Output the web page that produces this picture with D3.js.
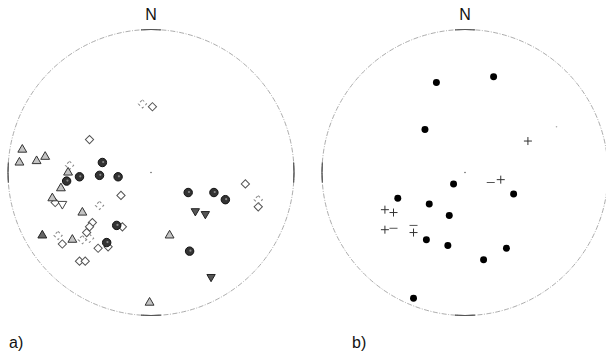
<!DOCTYPE html>
<html>
<head>
<meta charset="utf-8">
<script src="https://cdn.jsdelivr.net/npm/d3@7"></script>
<style>
  body { margin: 0; background: #fff; }
  text { font-family: "Liberation Sans", Arial, sans-serif; fill: #111; }
</style>
</head>
<body>
<svg id="chart" width="606" height="358"></svg>
<script>
// positions in the projection disk, unit radius (x east, y north)
const aCircles = [[-0.34,0.07],[-0.50,-0.03],[-0.36,-0.02],[-0.23,-0.03],[-0.59,-0.06],
  [-0.24,-0.37],[-0.31,-0.49],[0.26,-0.14],[0.44,-0.14],[0.52,-0.19],[0.27,-0.55]];
const aTriangles = [[-0.90,0.16],[-0.92,0.07],[-0.80,0.08],[-0.74,0.11],[-0.58,0.00],
  [-0.63,-0.11],[-0.69,-0.18],[-0.48,-0.28],[-0.55,-0.47],[0.13,-0.44],[-0.01,-0.91]];
const aTrianglesDark = [[-0.76,-0.44]];
const aTrianglesOpenDown = [[-0.62,-0.22]];
const aTrianglesDown = [[0.31,-0.27],[0.38,-0.29],[0.42,-0.73]];
const aDiamonds = [[-0.43,0.23],[0.01,0.46],[0.66,-0.08],[0.75,-0.24],[-0.21,-0.16],
  [-0.67,-0.21],[-0.41,-0.35],[-0.43,-0.38],[-0.45,-0.42],[-0.20,-0.38],[-0.62,-0.50],
  [-0.30,-0.52],[-0.37,-0.53],[-0.50,-0.62],[-0.46,-0.62]];
const aBroken = [[-0.06,0.48],[-0.57,0.05],[-0.36,-0.23],[-0.65,-0.44],[-0.48,-0.47],
  [-0.43,-0.46],[0.75,-0.19]];

const bDots = [[-0.20,0.63],[0.20,0.67],[-0.28,0.30],[-0.08,-0.08],[0.34,-0.15],
  [-0.47,-0.18],[-0.25,-0.22],[-0.11,-0.30],[-0.27,-0.47],[-0.12,-0.51],[0.29,-0.53],
  [0.13,-0.61],[-0.36,-0.88]];
const bPlus = [[0.44,0.22],[0.25,-0.05],[-0.56,-0.26],[-0.50,-0.28],[-0.56,-0.40],[-0.36,-0.42]];
const bMinus = [[0.18,-0.07],[-0.50,-0.39],[-0.36,-0.37]];
const bFaint = [[0.64,0.32]];

const panelLabels = ["a)", "b)"];

const svg = d3.select("#chart");
const R = 143;

function makeNet(cx, cy, label, lx) {
  const x = d3.scaleLinear().domain([-1, 1]).range([cx - R, cx + R]);
  const y = d3.scaleLinear().domain([-1, 1]).range([cy + R, cy - R]);
  const g = svg.append("g");

  // primitive circle
  g.append("circle")
    .attr("cx", cx).attr("cy", cy).attr("r", R)
    .attr("fill", "none")
    .attr("stroke", "#888")
    .attr("stroke-width", 0.7)
    .attr("stroke-dasharray", "5,1.5,1,1.5");

  // cardinal ticks
  const arc = d3.arc().innerRadius(R).outerRadius(R);
  [0, 90, 180, 270].forEach(a => {
    const rad = a * Math.PI / 180, d = 4 * Math.PI / 180;
    g.append("path")
      .attr("transform", `translate(${cx},${cy})`)
      .attr("d", arc({ startAngle: rad - d, endAngle: rad + d }))
      .attr("fill", "none")
      .attr("stroke", "#555")
      .attr("stroke-width", a === 0 ? 1.2 : 0.9);
  });

  g.append("circle").attr("cx", cx).attr("cy", cy).attr("r", 0.8).attr("fill", "#666");

  g.append("text")
    .attr("x", cx).attr("y", 20)
    .attr("text-anchor", "middle")
    .attr("font-size", 16)
    .text("N");

  g.append("text")
    .attr("x", lx).attr("y", 348)
    .attr("font-size", 16)
    .text(label);

  return { g, x, y };
}

const left = makeNet(151, 172.5, panelLabels[0], 9);
const right = makeNet(465, 172.5, panelLabels[1], 352);

function symbols(net, data, type, size, fill, stroke, dash, rot) {
  net.g.selectAll(null)
    .data(data)
    .join("path")
    .attr("transform", d => `translate(${net.x(d[0])},${net.y(d[1])}) rotate(${rot || 0})`)
    .attr("d", d3.symbol().type(type).size(size))
    .attr("fill", fill)
    .attr("stroke", stroke)
    .attr("stroke-width", 1)
    .attr("stroke-dasharray", dash || null);
}

// panel a
symbols(left, aDiamonds, d3.symbolSquare, 34, "#fff", "#555", null, 45);
symbols(left, aBroken, d3.symbolSquare, 34, "none", "#888", "2.5,2.5", 45);
symbols(left, aTriangles, d3.symbolTriangle, 34, "#c4c4c4", "#333");
symbols(left, aTrianglesDark, d3.symbolTriangle, 34, "#666", "#222");
symbols(left, aTrianglesOpenDown, d3.symbolTriangle, 34, "#fff", "#444", null, 180);
symbols(left, aTrianglesDown, d3.symbolTriangle, 30, "#555", "#222", null, 180);
symbols(left, aCircles, d3.symbolCircle, 56, "#333", "#111");
left.g.selectAll(null)
  .data(aCircles)
  .join("circle")
  .attr("cx", d => left.x(d[0]) + 0.8)
  .attr("cy", d => left.y(d[1]) - 0.5)
  .attr("r", 1.1)
  .attr("fill", "#888");

// panel b
symbols(right, bDots, d3.symbolCircle, 38, "#000", "none");
right.g.selectAll(null)
  .data(bPlus)
  .join("path")
  .attr("d", d => {
    const px = right.x(d[0]), py = right.y(d[1]);
    return `M${px - 4},${py}H${px + 4}M${px},${py - 4}V${py + 4}`;
  })
  .attr("stroke", "#333").attr("stroke-width", 1);
right.g.selectAll(null)
  .data(bMinus)
  .join("path")
  .attr("d", d => {
    const px = right.x(d[0]), py = right.y(d[1]);
    return `M${px - 4},${py}H${px + 4}`;
  })
  .attr("stroke", "#555").attr("stroke-width", 1);
right.g.selectAll(null)
  .data(bFaint)
  .join("circle")
  .attr("cx", d => right.x(d[0]))
  .attr("cy", d => right.y(d[1]))
  .attr("r", 0.8)
  .attr("fill", "#aaa");
</script>
</body>
</html>
